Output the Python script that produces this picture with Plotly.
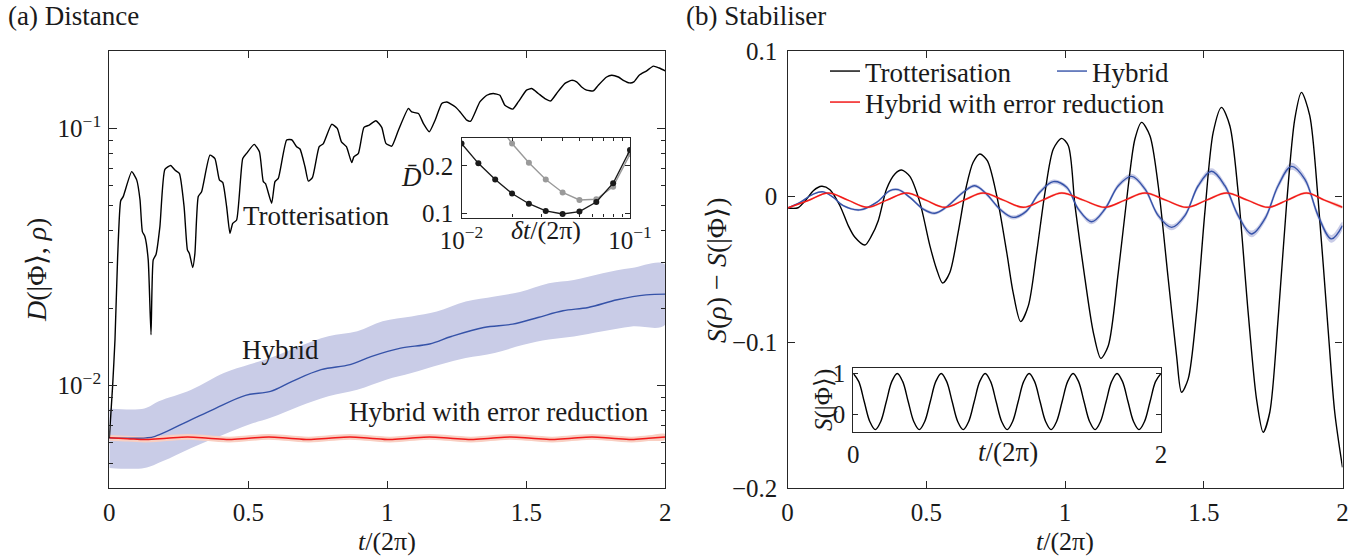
import plotly.graph_objects as go

W, H = 1363, 559
FONT = "Liberation Serif"

# ---------------- (a) Distance: main panel ----------------
trot_t = [0, 0.012, 0.0205, 0.03, 0.041, 0.05, 0.0805, 0.0985, 0.1105, 0.119, 0.128, 0.140, 0.150, 0.158,
          0.168, 0.182, 0.200, 0.221, 0.236, 0.252, 0.269, 0.281, 0.288, 0.300, 0.308, 0.320, 0.332, 0.362,
          0.380, 0.396, 0.408, 0.422, 0.434, 0.444, 0.458, 0.480, 0.494, 0.521, 0.540, 0.554, 0.562, 0.584,
          0.596, 0.608, 0.638, 0.656, 0.674, 0.686, 0.704, 0.716, 0.731, 0.755, 0.770, 0.800, 0.820, 0.835,
          0.853, 0.872, 0.880, 0.896, 0.916, 0.935, 0.959, 0.980, 0.995, 1.016, 1.040, 1.076, 1.088, 1.112,
          1.130, 1.151, 1.172, 1.196, 1.214, 1.244, 1.262, 1.286, 1.300, 1.333, 1.358, 1.381, 1.405, 1.423,
          1.451, 1.471, 1.501, 1.519, 1.543, 1.567, 1.588, 1.609, 1.639, 1.663, 1.681, 1.699, 1.717, 1.741,
          1.759, 1.789, 1.807, 1.831, 1.849, 1.871, 1.887, 1.906, 1.933, 1.957, 1.978, 2.0]
trot_log10D = [-2.205, -2.0, -1.82, -1.5, -1.281, -1.265, -1.168, -1.2, -1.278, -1.401, -1.42, -1.511, -1.802,
               -1.511, -1.49, -1.382, -1.159, -1.144, -1.162, -1.175, -1.304, -1.472, -1.486, -1.541, -1.486,
               -1.265, -1.246, -1.104, -1.117, -1.2, -1.21, -1.304, -1.408, -1.369, -1.356, -1.117, -1.097,
               -1.062, -1.091, -1.207, -1.215, -1.291, -1.207, -1.194, -1.045, -1.044, -1.071, -1.08, -1.149,
               -1.205, -1.19, -1.071, -1.059, -0.984, -1.0, -1.052, -1.071, -1.133, -1.11, -1.097, -0.996,
               -0.987, -0.970, -0.996, -1.058, -1.069, -1.007, -0.922, -0.936, -0.942, -0.981, -1.013, -0.968,
               -0.903, -0.897, -0.916, -0.936, -0.968, -0.972, -0.897, -0.871, -0.864, -0.871, -0.910, -0.925,
               -0.897, -0.851, -0.845, -0.864, -0.884, -0.893, -0.864, -0.825, -0.813, -0.819, -0.839, -0.851,
               -0.854, -0.832, -0.800, -0.793, -0.800, -0.813, -0.823, -0.819, -0.793, -0.776, -0.758, -0.765,
               -0.776]

hyb_t = [0, 0.132, 0.165, 0.295, 0.373, 0.49, 0.58, 0.658, 0.762, 0.866, 0.944, 1.048, 1.152, 1.23, 1.347,
         1.451, 1.542, 1.632, 1.723, 1.827, 1.931, 2.0]
hyb_log10D = [-2.203, -2.203, -2.197, -2.132, -2.093, -2.038, -2.022, -1.983, -1.938, -1.918, -1.886, -1.854,
              -1.838, -1.809, -1.774, -1.761, -1.735, -1.709, -1.696, -1.666, -1.647, -1.644]
hyb_up_t = [0, 0.126, 0.178, 0.295, 0.412, 0.503, 0.58, 0.684, 0.788, 0.892, 0.983, 1.087, 1.178, 1.282, 1.386,
            1.477, 1.581, 1.671, 1.775, 1.879, 2.0]
hyb_up_log10D = [-2.089, -2.089, -2.061, -2.016, -1.951, -1.918, -1.892, -1.847, -1.808, -1.789, -1.750, -1.731,
                 -1.712, -1.673, -1.653, -1.636, -1.602, -1.589, -1.563, -1.543, -1.530]
hyb_lo_t = [0, 0.126, 0.191, 0.295, 0.412, 0.503, 0.58, 0.684, 0.788, 0.892, 0.996, 1.087, 1.191, 1.282, 1.386,
            1.49, 1.581, 1.671, 1.775, 1.879, 2.0]
hyb_lo_log10D = [-2.320, -2.320, -2.294, -2.242, -2.190, -2.151, -2.125, -2.080, -2.041, -2.016, -1.977, -1.951,
                 -1.918, -1.893, -1.873, -1.841, -1.821, -1.809, -1.789, -1.770, -1.763]

red_t = [0, 0.066, 0.132, 0.207, 0.282, 0.356, 0.431, 0.502, 0.574, 0.645, 0.717, 0.79, 0.866, 0.937, 1.009,
         1.08, 1.152, 1.226, 1.301, 1.372, 1.444, 1.518, 1.593, 1.664, 1.736, 1.807, 1.879, 1.94, 2.0]
red_D = [0.00627, 0.00622, 0.00617, 0.00625, 0.00632, 0.00625, 0.00617, 0.00625, 0.00632, 0.00625, 0.00617,
         0.00625, 0.00632, 0.00625, 0.00617, 0.00625, 0.00632, 0.00625, 0.00617, 0.00625, 0.00632, 0.00625,
         0.00617, 0.00625, 0.00632, 0.00625, 0.00617, 0.00625, 0.00632]
red_D_up = [0.00643, 0.00638, 0.00633, 0.00641, 0.00648, 0.00641, 0.00633, 0.00641, 0.00648, 0.00641, 0.00633,
            0.00641, 0.00648, 0.00641, 0.00633, 0.00641, 0.00648, 0.00641, 0.00633, 0.00641, 0.00648, 0.00641,
            0.00633, 0.00641, 0.00648, 0.00641, 0.00633, 0.00641, 0.00648]
red_D_lo = [0.00611, 0.00606, 0.00601, 0.00609, 0.00616, 0.00609, 0.00601, 0.00609, 0.00616, 0.00609, 0.00601,
            0.00609, 0.00616, 0.00609, 0.00601, 0.00609, 0.00616, 0.00609, 0.00601, 0.00609, 0.00616, 0.00609,
            0.00601, 0.00609, 0.00616, 0.00609, 0.00601, 0.00609, 0.00616]

# inset of (a)
dt_vals = [0.01, 0.01259, 0.01585, 0.01995, 0.02512, 0.03162, 0.03981, 0.05012, 0.0631, 0.07943, 0.1]
Dbar_black = [0.2464, 0.205, 0.1714, 0.1421, 0.1207, 0.1057, 0.0993, 0.1043, 0.1243, 0.1636, 0.2329]
Dbar_gray = [None, None, 0.295, 0.2464, 0.2064, 0.1714, 0.1443, 0.1286, 0.130, 0.1564, 0.2243]

# ---------------- (b) Stabiliser ----------------
s_tro_t = [0, 0.038, 0.069, 0.093, 0.123, 0.153, 0.189, 0.219, 0.243, 0.279, 0.303, 0.327, 0.357, 0.387, 0.411,
           0.441, 0.477, 0.513, 0.537, 0.559, 0.585, 0.615, 0.645, 0.669, 0.693, 0.720, 0.754, 0.790, 0.813,
           0.840, 0.868, 0.898, 0.928, 0.958, 0.988, 1.012, 1.036, 1.072, 1.102, 1.129, 1.156, 1.192, 1.228,
           1.252, 1.276, 1.306, 1.336, 1.372, 1.402, 1.420, 1.444, 1.474, 1.504, 1.534, 1.564, 1.594, 1.624,
           1.660, 1.690, 1.714, 1.738, 1.768, 1.798, 1.828, 1.852, 1.882, 1.912, 1.948, 1.972, 2.0]
s_tro = [-0.0078, -0.0076, -0.0016, 0.0041, 0.0071, 0.0048, -0.0062, -0.0199, -0.0279, -0.0332, -0.0268,
         -0.0165, 0.0053, 0.0156, 0.0183, 0.0139, -0.0039, -0.0336, -0.0496, -0.0593, -0.052, -0.0245, 0.0075,
         0.0236, 0.0293, 0.0247, 0.0007, -0.0382, -0.0657, -0.0858, -0.0748, -0.0382, 0.003, 0.0327, 0.040,
         0.035, -0.0062, -0.0565, -0.0931, -0.111, -0.1023, -0.052, 0.0075, 0.0396, 0.051, 0.0419, 0.0075,
         -0.0565, -0.1091, -0.1343, -0.1251, -0.0794, -0.0108, 0.0441, 0.0613, 0.0487, 0.003, -0.0794, -0.1388,
         -0.1617, -0.148, -0.0839, -0.0062, 0.0533, 0.0716, 0.0556, -0.0016, -0.0908, -0.148, -0.1858]

s_hyb_t = [0, 0.045, 0.093, 0.129, 0.165, 0.201, 0.261, 0.321, 0.369, 0.399, 0.441, 0.489, 0.531, 0.573, 0.633,
           0.675, 0.717, 0.765, 0.813, 0.861, 0.909, 0.958, 1.006, 1.048, 1.096, 1.144, 1.192, 1.24, 1.288,
           1.336, 1.384, 1.432, 1.48, 1.528, 1.576, 1.624, 1.672, 1.72, 1.768, 1.816, 1.864, 1.912, 1.96, 2.0]
s_hyb = [-0.0078, -0.0039, 0.0018, 0.0033, -0.0005, -0.0062, -0.0091, -0.0039, 0.0041, 0.0048, -0.0005,
         -0.0085, -0.0114, -0.0071, 0.003, 0.0075, 0.0018, -0.0085, -0.0142, -0.0099, 0.003, 0.0103, 0.0064,
         -0.0085, -0.0172, -0.0085, 0.0075, 0.0139, 0.0053, -0.013, -0.0211, -0.013, 0.0075, 0.0174, 0.0075,
         -0.013, -0.0256, -0.0153, 0.0075, 0.0208, 0.0121, -0.013, -0.029, -0.0199]
s_hyb_hw = [0.0003, 0.0004, 0.0005, 0.0006, 0.0006, 0.0007, 0.0008, 0.0008, 0.0009, 0.0009, 0.001, 0.001,
            0.0011, 0.0011, 0.0012, 0.0012, 0.0013, 0.0013, 0.0014, 0.0014, 0.0015, 0.0015, 0.0016, 0.0016,
            0.0017, 0.0017, 0.0018, 0.0018, 0.0019, 0.0019, 0.002, 0.002, 0.0021, 0.0021, 0.0022, 0.0022,
            0.0023, 0.0023, 0.0024, 0.0024, 0.0025, 0.0025, 0.0026, 0.0026]

s_red_t = [0, 0.075, 0.147, 0.218, 0.288, 0.358, 0.429, 0.498, 0.567, 0.636, 0.705, 0.778, 0.85, 0.919, 0.988,
           1.066, 1.144, 1.216, 1.288, 1.363, 1.438, 1.51, 1.582, 1.657, 1.732, 1.801, 1.870, 1.935, 2.0]
s_red = [-0.0078, -0.0026, 0.0025, -0.0024, -0.0073, -0.0024, 0.0025, -0.0024, -0.0073, -0.0024, 0.0025,
         -0.0024, -0.0073, -0.0024, 0.0025, -0.0024, -0.0073, -0.0024, 0.0025, -0.0024, -0.0073, -0.0024,
         0.0025, -0.0024, -0.0073, -0.0024, 0.0025, -0.0024, -0.0073]
s_red_hw = [0.0006, 0.0006, 0.0006, 0.0007, 0.0007, 0.0007, 0.0007, 0.0008, 0.0008, 0.0008, 0.0008, 0.0008,
            0.0008, 0.0008, 0.0008, 0.0008, 0.0008, 0.0008, 0.0008, 0.0008, 0.0008, 0.0008, 0.0008, 0.0008,
            0.0008, 0.0008, 0.0008, 0.0008, 0.0008]

# inset of (b): S(|Phi>) sampled every eighth of a period
sphi_t = [0, 0.0357, 0.0714, 0.1071, 0.1429, 0.1786, 0.2143, 0.25, 0.2857, 0.3214, 0.3571, 0.3929, 0.4286,
          0.4643, 0.5, 0.5357, 0.5714, 0.6071, 0.6429, 0.6786, 0.7143, 0.75, 0.7857, 0.8214, 0.8571, 0.8929,
          0.9286, 0.9643, 1.0, 1.0357, 1.0714, 1.1071, 1.1429, 1.1786, 1.2143, 1.25, 1.2857, 1.3214, 1.3571,
          1.3929, 1.4286, 1.4643, 1.5, 1.5357, 1.5714, 1.6071, 1.6429, 1.6786, 1.7143, 1.75, 1.7857, 1.8214,
          1.8571, 1.8929, 1.9286, 1.9643, 2.0]
sphi = [1.0, 0.8, 0.31, -0.17, -0.37, -0.17, 0.31, 0.8, 1.0, 0.8, 0.31, -0.17, -0.37, -0.17, 0.31, 0.8, 1.0,
        0.8, 0.31, -0.17, -0.37, -0.17, 0.31, 0.8, 1.0, 0.8, 0.31, -0.17, -0.37, -0.17, 0.31, 0.8, 1.0, 0.8,
        0.31, -0.17, -0.37, -0.17, 0.31, 0.8, 1.0, 0.8, 0.31, -0.17, -0.37, -0.17, 0.31, 0.8, 1.0, 0.8, 0.31,
        -0.17, -0.37, -0.17, 0.31, 0.8, 1.0]

# ---------------- figure ----------------
BLUE = "#3552a8"
BAND = "#c9cce7"
RED = "#f21a1a"
REDBAND = "#f9cfc2"
AX = "#262626"
TXT = "#1a1a1a"

def px(x): return x / W
def py(y): return 1 - y / H

fig = go.Figure()

# (a) bands & lines
fig.add_trace(go.Scatter(x=hyb_up_t + hyb_lo_t[::-1],
                         y=[10 ** v for v in hyb_up_log10D] + [10 ** v for v in hyb_lo_log10D[::-1]],
                         fill="toself", fillcolor=BAND, line=dict(width=0, shape="spline"),
                         mode="lines", showlegend=False, xaxis="x", yaxis="y", hoverinfo="skip"))
fig.add_trace(go.Scatter(x=red_t + red_t[::-1], y=red_D_up + red_D_lo[::-1], fill="toself",
                         fillcolor=REDBAND, line=dict(width=0, shape="spline"), mode="lines",
                         showlegend=False, xaxis="x", yaxis="y", hoverinfo="skip"))
fig.add_trace(go.Scatter(x=hyb_t, y=[10 ** v for v in hyb_log10D], mode="lines",
                         line=dict(color=BLUE, width=1.4, shape="spline"), showlegend=False,
                         xaxis="x", yaxis="y"))
fig.add_trace(go.Scatter(x=red_t, y=red_D, mode="lines", line=dict(color=RED, width=1.5, shape="spline"),
                         showlegend=False, xaxis="x", yaxis="y"))
fig.add_trace(go.Scatter(x=trot_t, y=[10 ** v for v in trot_log10D], mode="lines",
                         line=dict(color="black", width=1.4, shape="spline", smoothing=0.5),
                         showlegend=False, xaxis="x", yaxis="y"))

# (a) inset
fig.add_trace(go.Scatter(x=dt_vals, y=Dbar_gray, mode="lines+markers", line=dict(color="#9a9a9a", width=1.4),
                         marker=dict(color="#9a9a9a", size=6), showlegend=False, xaxis="x3", yaxis="y3"))
fig.add_trace(go.Scatter(x=dt_vals, y=Dbar_black, mode="lines+markers", line=dict(color="#1a1a1a", width=1.4),
                         marker=dict(color="#1a1a1a", size=6), showlegend=False, xaxis="x3", yaxis="y3"))

# (b) bands & lines
fig.add_trace(go.Scatter(x=s_red_t + s_red_t[::-1],
                         y=[a + b for a, b in zip(s_red, s_red_hw)] + [a - b for a, b in zip(s_red[::-1], s_red_hw[::-1])],
                         fill="toself", fillcolor=REDBAND, line=dict(width=0, shape="spline"), mode="lines",
                         showlegend=False, xaxis="x2", yaxis="y2", hoverinfo="skip"))
fig.add_trace(go.Scatter(x=s_hyb_t + s_hyb_t[::-1],
                         y=[a + b for a, b in zip(s_hyb, s_hyb_hw)] + [a - b for a, b in zip(s_hyb[::-1], s_hyb_hw[::-1])],
                         fill="toself", fillcolor=BAND, line=dict(width=0, shape="spline"), mode="lines",
                         showlegend=False, xaxis="x2", yaxis="y2", hoverinfo="skip"))
fig.add_trace(go.Scatter(x=s_tro_t, y=s_tro, mode="lines", name="Trotterisation",
                         line=dict(color="black", width=1.4, shape="spline", smoothing=0.8),
                         xaxis="x2", yaxis="y2", legend="legend"))
fig.add_trace(go.Scatter(x=s_hyb_t, y=s_hyb, mode="lines", name="Hybrid",
                         line=dict(color=BLUE, width=1.4, shape="spline"), xaxis="x2", yaxis="y2",
                         legend="legend"))
fig.add_trace(go.Scatter(x=s_red_t, y=s_red, mode="lines", name="Hybrid with error reduction",
                         line=dict(color=RED, width=1.5, shape="spline"), xaxis="x2", yaxis="y2",
                         legend="legend2"))

# (b) inset
fig.add_trace(go.Scatter(x=sphi_t, y=sphi, mode="lines", line=dict(color="black", width=1.4, shape="spline"),
                         showlegend=False, xaxis="x4", yaxis="y4"))

TICKSZ = 25
axcommon = dict(showline=True, linecolor=AX, linewidth=1.3, mirror="allticks", ticks="inside",
                tickcolor=AX, tickwidth=1.2, showgrid=False, zeroline=False, automargin=False,
                tickfont=dict(family=FONT, size=TICKSZ, color=TXT))

minor_main = [0.005, 0.006, 0.007, 0.008, 0.009, 0.02, 0.03, 0.04, 0.05, 0.06, 0.07, 0.08, 0.09]
minor_inset = [0.02, 0.03, 0.04, 0.05, 0.06, 0.07, 0.08, 0.09]

fig.update_layout(
    width=W, height=H, margin=dict(l=0, r=0, t=0, b=0, pad=0, autoexpand=False),
    paper_bgcolor="white", plot_bgcolor="rgba(0,0,0,0)",
    font=dict(family=FONT, color=TXT),
    xaxis=dict(domain=[px(109.3), px(665.3)], anchor="y", range=[0, 2], tickvals=[0, 0.5, 1, 1.5, 2],
               ticktext=["0", "0.5", "1", "1.5", "2"], ticklen=7, ticklabelstandoff=2, **axcommon),
    yaxis=dict(domain=[py(488), py(51)], anchor="x", type="log", range=[-2.39794, -0.69897],
               tickvals=[0.01, 0.1], ticktext=["10<sup>−2</sup>", "10<sup>−1</sup>"], ticklen=8,
               ticklabelstandoff=2,
               minor=dict(tickmode="array", tickvals=minor_main, ticks="inside", ticklen=4, tickcolor=AX),
               **axcommon),
    xaxis2=dict(domain=[px(787.5), px(1342.5)], anchor="y2", range=[0, 2], tickvals=[0, 0.5, 1, 1.5, 2],
                ticktext=["0", "0.5", "1", "1.5", "2"], ticklen=7, ticklabelstandoff=2, **axcommon),
    yaxis2=dict(domain=[py(488), py(51)], anchor="x2", range=[-0.2, 0.1], tickvals=[-0.2, -0.1, 0, 0.1],
                ticktext=["−0.2", "−0.1", "0", "0.1"], ticklen=7, ticklabelstandoff=4, **axcommon),
    xaxis3=dict(domain=[px(461.5), px(630)], anchor="y3", type="log", range=[-2, -1], tickvals=[0.01, 0.1],
                ticktext=["10<sup>−2</sup>", "10<sup>−1</sup>"], ticklen=5, ticklabelstandoff=0,
                minor=dict(tickmode="array", tickvals=minor_inset, ticks="inside", ticklen=3, tickcolor=AX),
                **axcommon),
    yaxis3=dict(domain=[py(217.5), py(137.5)], anchor="x3", range=[0.092, 0.259], tickvals=[0.1, 0.2],
                ticktext=["0.1", "0.2"], ticklen=5, ticklabelstandoff=2, **axcommon),
    xaxis4=dict(domain=[px(853.3), px(1161)], anchor="y4", range=[0, 2], tickvals=[0, 2],
                ticktext=["0", "2"], ticklen=5, ticklabelstandoff=0, **axcommon),
    yaxis4=dict(domain=[py(431.7), py(367.7)], anchor="x4", range=[-0.42, 1.14], tickvals=[0, 1],
                ticktext=["0", "1"], ticklen=5, ticklabelstandoff=2, **axcommon),
    legend=dict(orientation="h", x=px(825), y=py(47), xanchor="left", yanchor="top",
                bgcolor="rgba(0,0,0,0)", font=dict(family=FONT, size=27, color=TXT),
                itemwidth=30, tracegroupgap=0, entrywidth=182, entrywidthmode="pixels"),
    legend2=dict(orientation="h", x=px(825), y=py(78), xanchor="left", yanchor="top",
                 bgcolor="rgba(0,0,0,0)", font=dict(family=FONT, size=27, color=TXT),
                 itemwidth=30),
)

def ann(text, x, y, size=25, angle=0, xanchor="center", yanchor="middle"):
    fig.add_annotation(text=text, x=px(x), y=py(y), xref="paper", yref="paper", showarrow=False,
                       textangle=angle, xanchor=xanchor, yanchor=yanchor,
                       font=dict(family=FONT, size=size, color=TXT))

ann("(a) Distance", 6, 16, size=27, xanchor="left")
ann("(b) Stabiliser", 684, 16, size=27, xanchor="left")
ann("Trotterisation", 316, 216, size=27)
ann("Hybrid", 280, 350, size=27)
ann("Hybrid with error reduction", 499, 412, size=27)
ann("<i>D</i>(|Φ⟩, <i>ρ</i>)", 36, 270, size=28, angle=-90)
ann("<i>S</i>(<i>ρ</i>) − <i>S</i>(|Φ⟩)", 716, 270, size=28, angle=-90)
ann("<i>t</i>/(2π)", 387, 558, size=26, yanchor="bottom")
ann("<i>t</i>/(2π)", 1065, 558, size=26, yanchor="bottom")
ann("<i>D̄</i>", 411, 177, size=27)
ann("<i>δt</i>/(2π)", 546, 231, size=26)
ann("<i>S</i>(|Φ⟩)", 824, 400, size=25, angle=-90)
ann("<i>t</i>/(2π)", 1008, 452, size=27)

fig.write_html("out.html", post_script="document.body.style.margin='0px';",
               config={"displayModeBar": False})
